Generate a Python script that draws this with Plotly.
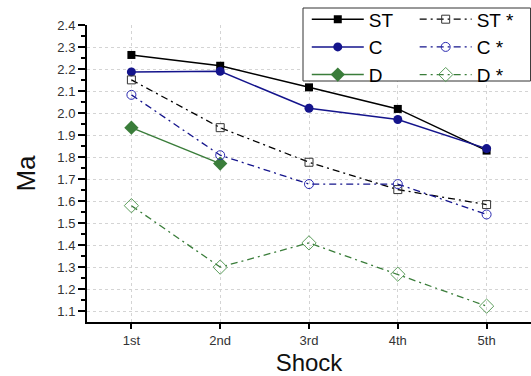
import plotly.graph_objects as go

shocks = ["1st", "2nd", "3rd", "4th", "5th"]
st = [2.264, 2.215, 2.117, 2.019, 1.830]
c = [2.187, 2.190, 2.022, 1.971, 1.839]
d = [1.934, 1.771]
st_star = [2.151, 1.934, 1.777, 1.653, 1.585]
c_star = [2.083, 1.809, 1.678, 1.678, 1.540]
d_star = [1.580, 1.301, 1.411, 1.269, 1.124]

BLACK = "#000000"
BLUE = "#14148c"
GREEN = "#3a7d3a"
LGREEN = "#5c9e5c"
DASH = "7px,4px,2px,4px"

fig = go.Figure()
fig.add_trace(go.Scatter(x=shocks, y=st, name="ST", mode="lines+markers", legend="legend",
                         line=dict(color=BLACK, width=1.5),
                         marker=dict(symbol="square", size=8, color=BLACK)))
fig.add_trace(go.Scatter(x=shocks, y=c, name="C", mode="lines+markers", legend="legend",
                         line=dict(color=BLUE, width=1.5),
                         marker=dict(symbol="circle", size=9, color=BLUE)))
fig.add_trace(go.Scatter(x=shocks[:len(d)], y=d, name="D", mode="lines+markers", legend="legend",
                         line=dict(color=GREEN, width=1.5),
                         marker=dict(symbol="diamond", size=11, color=GREEN)))
fig.add_trace(go.Scatter(x=shocks, y=st_star, name="ST *", mode="lines+markers", legend="legend2",
                         line=dict(color=BLACK, width=1.3, dash=DASH),
                         marker=dict(symbol="square-open", size=8, color="#333333")))
fig.add_trace(go.Scatter(x=shocks, y=c_star, name="C *", mode="lines+markers", legend="legend2",
                         line=dict(color=BLUE, width=1.3, dash=DASH),
                         marker=dict(symbol="circle-open", size=9, color="#2a2ab0")))
fig.add_trace(go.Scatter(x=shocks, y=d_star, name="D *", mode="lines+markers", legend="legend2",
                         line=dict(color=GREEN, width=1.3, dash=DASH),
                         marker=dict(symbol="diamond-open", size=11, color=LGREEN)))

leg_common = dict(orientation="v", yanchor="top", xanchor="left",
                  bgcolor="rgba(0,0,0,0)", borderwidth=0,
                  font=dict(size=19, color="#000000"), traceorder="normal",
                  itemwidth=52, tracegroupgap=0)

fig.update_layout(
    width=531, height=376,
    margin=dict(l=87, r=0, t=25, b=54, autoexpand=False),
    plot_bgcolor="white", paper_bgcolor="white",
    font=dict(family="Liberation Sans, Arial, sans-serif", color="#222222"),
    showlegend=True,
    legend=dict(x=0.495, y=1.083, **leg_common),
    legend2=dict(x=0.738, y=1.083, **leg_common),
    shapes=[dict(type="rect", xref="paper", yref="paper", x0=0.4865, x1=0.999,
                 y0=0.8114, y1=1.0572, layer="above",
                 line=dict(color="#333333", width=1), fillcolor="white")],
)
fig.update_xaxes(
    type="category", range=[-0.5, 4.5],
    showline=True, linecolor=BLACK, linewidth=2,
    ticks="outside", ticklen=5, tickwidth=1.5, tickcolor=BLACK,
    tickfont=dict(size=13, color="#333333"),
    showgrid=True, gridcolor="#d4d4d4", griddash="dot", gridwidth=1,
    zeroline=False,
    title=dict(text="Shock", font=dict(size=24, color="#111111"), standoff=8),
)
fig.update_yaxes(
    range=[1.052, 2.4], dtick=0.1, tick0=1.0, tickformat=".1f",
    showline=True, linecolor=BLACK, linewidth=2,
    ticks="outside", ticklen=7, tickwidth=1.5, tickcolor=BLACK,
    tickfont=dict(size=13, color="#333333"),
    showgrid=True, gridcolor="#d4d4d4", griddash="dot", gridwidth=1,
    zeroline=False,
    minor=dict(dtick=0.05, tick0=1.0, ticks="outside", ticklen=4, tickcolor=BLACK, showgrid=False),
    title=dict(text="Ma", font=dict(size=26, color="#111111"), standoff=14),
)

fig.write_html("out.html", config={"displayModeBar": False},
               post_script="document.body.style.margin='0';document.body.style.padding='0';")
